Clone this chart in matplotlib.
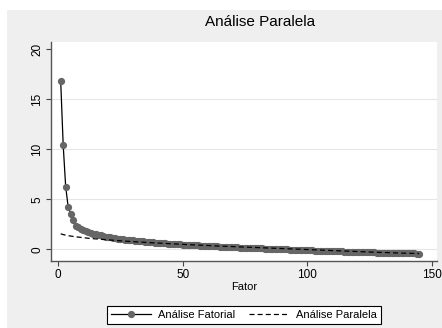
import numpy as np
import matplotlib
matplotlib.use('Agg')
import matplotlib.pyplot as plt
from matplotlib.patches import Rectangle

plt.rcParams['font.family'] = ['Liberation Sans', 'DejaVu Sans']

# eigenvalues (factors 1..145)
eigen_fatorial = [
    16.8, 10.4, 6.25, 4.25, 3.55, 2.9, 2.35, 2.2, 2.05, 1.92,
    1.82, 1.73, 1.65, 1.58, 1.51, 1.45, 1.39, 1.33, 1.28, 1.23,
    1.19, 1.15, 1.11, 1.07, 1.04, 1.01, 0.98, 0.95, 0.92, 0.89,
    0.86, 0.84, 0.81, 0.79, 0.76, 0.74, 0.72, 0.70, 0.68, 0.66,
    0.64, 0.62, 0.60, 0.58, 0.56, 0.54, 0.53, 0.51, 0.49, 0.48,
    0.46, 0.45, 0.43, 0.42, 0.40, 0.39, 0.38, 0.36, 0.35, 0.34,
    0.32, 0.31, 0.30, 0.29, 0.27, 0.26, 0.25, 0.24, 0.23, 0.22,
    0.20, 0.19, 0.18, 0.17, 0.16, 0.15, 0.14, 0.13, 0.12, 0.11,
    0.10, 0.09, 0.08, 0.07, 0.06, 0.05, 0.04, 0.03, 0.02, 0.01,
    0.00, -0.01, -0.02, -0.03, -0.04, -0.05, -0.06, -0.07, -0.08, -0.09,
    -0.10, -0.11, -0.12, -0.12, -0.13, -0.14, -0.15, -0.16, -0.17, -0.18,
    -0.18, -0.19, -0.20, -0.21, -0.22, -0.23, -0.23, -0.24, -0.25, -0.26,
    -0.27, -0.27, -0.28, -0.29, -0.30, -0.30, -0.31, -0.32, -0.33, -0.33,
    -0.34, -0.35, -0.35, -0.36, -0.37, -0.37, -0.38, -0.39, -0.39, -0.40,
    -0.40, -0.41, -0.41, -0.42, -0.42,
]

# parallel analysis (random data) eigenvalues
eigen_paralela = [
    1.55, 1.47, 1.41, 1.36, 1.32, 1.28, 1.25, 1.22, 1.19, 1.16,
    1.13, 1.11, 1.08, 1.06, 1.04, 1.02, 1.00, 0.98, 0.96, 0.94,
    0.92, 0.90, 0.88, 0.87, 0.85, 0.83, 0.82, 0.80, 0.78, 0.77,
    0.75, 0.74, 0.72, 0.71, 0.69, 0.68, 0.66, 0.65, 0.64, 0.62,
    0.61, 0.60, 0.58, 0.57, 0.56, 0.54, 0.53, 0.52, 0.51, 0.49,
    0.48, 0.47, 0.46, 0.45, 0.43, 0.42, 0.41, 0.40, 0.39, 0.38,
    0.37, 0.35, 0.34, 0.33, 0.32, 0.31, 0.30, 0.29, 0.28, 0.27,
    0.26, 0.25, 0.24, 0.22, 0.21, 0.20, 0.19, 0.18, 0.17, 0.16,
    0.15, 0.14, 0.13, 0.12, 0.11, 0.10, 0.09, 0.08, 0.07, 0.06,
    0.05, 0.04, 0.03, 0.02, 0.01, 0.00, -0.01, -0.02, -0.03, -0.04,
    -0.05, -0.06, -0.07, -0.08, -0.09, -0.10, -0.11, -0.12, -0.13, -0.14,
    -0.15, -0.16, -0.17, -0.18, -0.19, -0.20, -0.21, -0.22, -0.22, -0.23,
    -0.24, -0.25, -0.26, -0.27, -0.27, -0.28, -0.29, -0.30, -0.31, -0.31,
    -0.32, -0.33, -0.34, -0.35, -0.35, -0.36, -0.37, -0.38, -0.38, -0.39,
    -0.40, -0.41, -0.41, -0.42, -0.43,
]

fatores = np.arange(1, len(eigen_fatorial) + 1)

W, H = 442, 328
fig = plt.figure(figsize=(W / 100, H / 100), dpi=100)
fig.patch.set_facecolor('white')
# light gray graph region (white strip at left and top)
fig.patches.append(Rectangle((7 / W, 0), 1, (H - 10) / H, transform=fig.transFigure,
                             facecolor='#efefef', edgecolor='none', zorder=-10))

ax = fig.add_axes([51 / W, (H - 261) / H, (437 - 51) / W, (261 - 42) / H])
ax.set_facecolor('white')

for g in [0, 5, 10, 15]:
    ax.axhline(g, color='#e6e6e6', lw=0.8, zorder=0)

ax.plot(fatores, eigen_fatorial, color='black', lw=0.9, marker='o', markersize=4.2,
        markerfacecolor='#666666', markeredgecolor='#666666', zorder=3,
        label='Análise Fatorial')
ax.plot(fatores, eigen_paralela, color='black', lw=0.9, dashes=(4, 2.5), zorder=4,
        label='Análise Paralela')

ax.set_xlim(-2.9, 152.2)
ax.set_ylim(-1.17, 20.73)
ax.set_xticks([0, 50, 100, 150])
ax.set_yticks([0, 5, 10, 15, 20])

for s in ['top', 'right']:
    ax.spines[s].set_visible(False)
for s in ['left', 'bottom']:
    ax.spines[s].set_color('#555555')
    ax.spines[s].set_linewidth(1.0)

ax.tick_params(axis='both', direction='out', length=3.6, width=0.8, color='#444444',
               labelsize=8.5, pad=2)
plt.setp(ax.get_yticklabels(), rotation=90, va='center')

ax.set_xlabel('Fator', fontsize=8, labelpad=1)
fig.text(260 / W, (H - 22) / H, 'Análise Paralela', ha='center', va='center', fontsize=11)

fig.legend(loc='center', bbox_to_anchor=(244 / W, 0.0387), ncol=2, fontsize=8,
           frameon=True, fancybox=False, edgecolor='black', framealpha=1,
           handlelength=3.6, numpoints=1, borderpad=0.35, columnspacing=1.3,
           handletextpad=0.6).get_frame().set_linewidth(0.8)

fig.savefig('out.png', dpi=100)
